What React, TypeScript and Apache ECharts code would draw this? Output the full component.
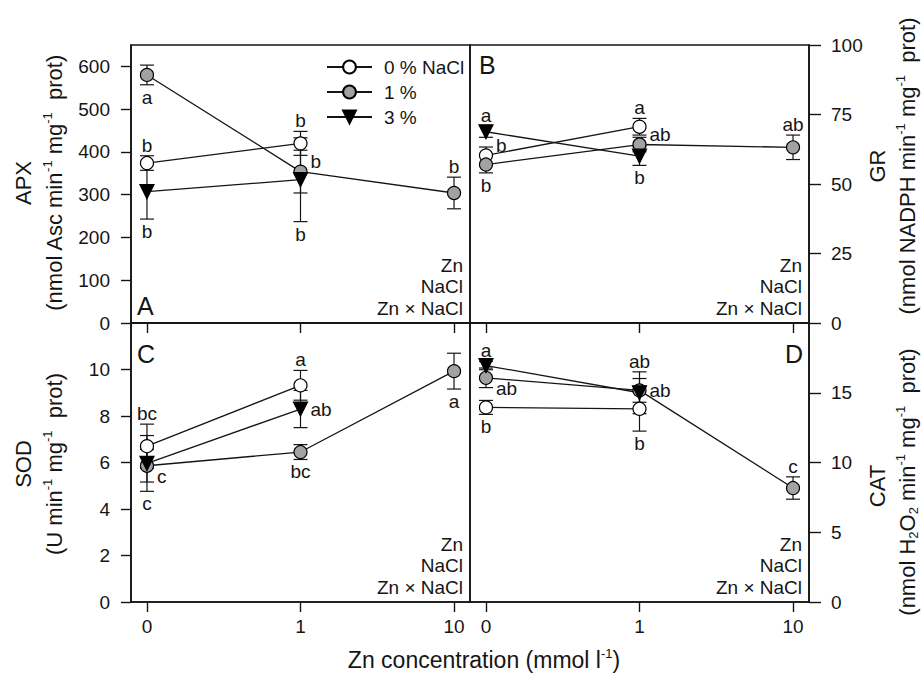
import React, { useEffect, useRef } from 'react';
import * as echarts from 'echarts';

// ---------- data ----------
const xLabels = ['0', '1', '10'];
const naclNames = ['0 % NaCl', '1 %', '3 %'];

// Panel A: APX
const apx0 = [374, 420];
const apx0Err = [17, 28];
const apx1 = [580, 354, 304];
const apx1Err = [23, 50, 37];
const apx3 = [307, 335];
const apx3Err = [64, 98];
const apx0Letters = ['b', 'b'];
const apx0Sides = ['above', 'above'];
const apx1Letters = ['a', 'b', 'b'];
const apx1Sides = ['below', 'rightUp', 'above'];
const apx3Letters = ['b', 'b'];
const apx3Sides = ['below', 'below'];
const apxTicks = [0, 100, 200, 300, 400, 500, 600];

// Panel B: GR
const gr0 = [60.3, 70.6];
const gr0Err = [3, 3];
const gr1 = [57.0, 64.2, 63.2];
const gr1Err = [3, 2.6, 4.4];
const gr3 = [68.8, 60.0];
const gr3Err = [2, 3.3];
const gr0Letters = ['b', 'a'];
const gr0Sides = ['rightUp', 'above'];
const gr1Letters = ['b', 'ab', 'ab'];
const gr1Sides = ['below', 'rightUp', 'above'];
const gr3Letters = ['a', 'b'];
const gr3Sides = ['above', 'below'];
const grTicks = [0, 25, 50, 75, 100];

// Panel C: SOD
const sod0 = [6.7, 9.32];
const sod0Err = [0.95, 0.64];
const sod1 = [5.86, 6.45, 9.93];
const sod1Err = [0.7, 0.32, 0.77];
const sod3 = [5.96, 8.3];
const sod3Err = [1.2, 0.8];
const sod0Letters = ['bc', 'a'];
const sod0Sides = ['above', 'above'];
const sod1Letters = ['c', 'bc', 'a'];
const sod1Sides = ['rightDown', 'below', 'below'];
const sod3Letters = ['c', 'ab'];
const sod3Sides = ['below', 'right'];
const sodTicks = [0, 2, 4, 6, 8, 10];

// Panel D: CAT
const cat0 = [13.95, 13.85];
const cat0Err = [0.5, 1.6];
const cat1 = [16.07, 15.17, 8.17];
const cat1Err = [0.7, 0.85, 0.8];
const cat3 = [16.95, 15.0];
const cat3Err = [0.3, 1.5];
const cat0Letters = ['b', 'b'];
const cat0Sides = ['below', 'below'];
const cat1Letters = ['ab', 'ab', 'c'];
const cat1Sides = ['rightDown', 'right', 'above'];
const cat3Letters = ['a', 'ab'];
const cat3Sides = ['above', 'above'];
const catTicks = [0, 5, 10, 15];

const statLines = ['Zn', 'NaCl', 'Zn × NaCl'];
const panelLetters = ['A', 'B', 'C', 'D'];

// ---------- styling ----------
const INK = '#151515';
const FONT = '"Liberation Sans", Arial, Helvetica, sans-serif';
const GRAY = '#a2a2a2';

const grids = [
  { left: 131, top: 45, width: 339, height: 278 },
  { left: 470, top: 45, width: 339, height: 278 },
  { left: 131, top: 323, width: 339, height: 279 },
  { left: 470, top: 323, width: 339, height: 279 },
];

const panels = [
  {
    max: 650, ticks: apxTicks, side: 'left',
    sets: [
      [apx0, apx0Err, apx0Letters, apx0Sides],
      [apx1, apx1Err, apx1Letters, apx1Sides],
      [apx3, apx3Err, apx3Letters, apx3Sides],
    ],
  },
  {
    max: 100, ticks: grTicks, side: 'right',
    sets: [
      [gr0, gr0Err, gr0Letters, gr0Sides],
      [gr1, gr1Err, gr1Letters, gr1Sides],
      [gr3, gr3Err, gr3Letters, gr3Sides],
    ],
  },
  {
    max: 12, ticks: sodTicks, side: 'left',
    sets: [
      [sod0, sod0Err, sod0Letters, sod0Sides],
      [sod1, sod1Err, sod1Letters, sod1Sides],
      [sod3, sod3Err, sod3Letters, sod3Sides],
    ],
  },
  {
    max: 20, ticks: catTicks, side: 'right',
    sets: [
      [cat0, cat0Err, cat0Letters, cat0Sides],
      [cat1, cat1Err, cat1Letters, cat1Sides],
      [cat3, cat3Err, cat3Letters, cat3Sides],
    ],
  },
];

const markerStyles = [
  { symbol: 'circle', symbolSize: 13, symbolRotate: 0, fill: '#ffffff' },
  { symbol: 'circle', symbolSize: 13, symbolRotate: 0, fill: GRAY },
  { symbol: 'triangle', symbolSize: 14, symbolRotate: 180, fill: '#000000' },
];

function errRender(params: any, api: any) {
  const x = api.value(0);
  const y = api.value(1);
  const e = api.value(2);
  const t = api.coord([x, y + e]);
  const b = api.coord([x, y - e]);
  const hw = 7;
  const st = { stroke: INK, lineWidth: 1.2 };
  return {
    type: 'group',
    children: [
      { type: 'line', shape: { x1: t[0], y1: t[1], x2: b[0], y2: b[1] }, style: st },
      { type: 'line', shape: { x1: t[0] - hw, y1: t[1], x2: t[0] + hw, y2: t[1] }, style: st },
      { type: 'line', shape: { x1: b[0] - hw, y1: b[1], x2: b[0] + hw, y2: b[1] }, style: st },
    ],
  };
}

function letterRender(letters: string[], sides: string[]) {
  return (params: any, api: any) => {
    const i = params.dataIndex;
    const x = api.value(0);
    const y = api.value(1);
    const e = api.value(2);
    const side = sides[i];
    const c = api.coord([x, y]);
    const base = { text: letters[i], fill: INK, fontSize: 19, fontFamily: FONT };
    if (side === 'above') {
      const p = api.coord([x, y + e]);
      return { type: 'text', x: p[0], y: p[1] - 1, style: { ...base, align: 'center', verticalAlign: 'bottom' } };
    }
    if (side === 'below') {
      const p = api.coord([x, y - e]);
      return { type: 'text', x: p[0], y: p[1] + 3, style: { ...base, align: 'center', verticalAlign: 'top' } };
    }
    const dy = side === 'rightUp' ? -10 : side === 'rightDown' ? 11 : 0;
    return { type: 'text', x: c[0] + 10, y: c[1] + dy, style: { ...base, align: 'left', verticalAlign: 'middle' } };
  };
}

const richN = { fontSize: 22, fontFamily: FONT, lineHeight: 26 };
const richSup = { fontSize: 13, fontFamily: FONT, lineHeight: 13, verticalAlign: 'top' };
const richSub = { fontSize: 13, fontFamily: FONT, lineHeight: 12, verticalAlign: 'bottom' };

function vText(x: number, y: number, text: string) {
  return {
    type: 'text',
    x,
    y,
    rotation: Math.PI / 2,
    style: {
      text,
      fill: INK,
      fontSize: 22,
      fontFamily: FONT,
      align: 'center',
      verticalAlign: 'middle',
      rich: { n: richN, s: richSup, b: richSub },
    },
  };
}

function plainText(x: number, y: number, text: string, size: number, align: string) {
  return {
    type: 'text',
    x,
    y,
    style: { text, fill: INK, fontSize: size, fontFamily: FONT, align, verticalAlign: 'middle' },
  };
}

function buildOption() {
  const xAxis: any[] = [];
  const yAxis: any[] = [];
  const series: any[] = [];
  const axisLineStyle = { color: INK, width: 1.6 };

  panels.forEach((p, gi) => {
    xAxis.push({
      type: 'value',
      gridIndex: gi,
      min: -0.104,
      max: 2.104,
      axisLine: { show: true, onZero: false, lineStyle: axisLineStyle },
      axisTick: { show: true, customValues: [0, 1, 2], length: 10, lineStyle: { color: INK, width: 1.4 } },
      axisLabel: {
        show: gi >= 2,
        customValues: [0, 1, 2],
        formatter: (v: number) => xLabels[Math.round(v)] ?? '',
        fontSize: 19,
        fontFamily: FONT,
        color: INK,
        margin: 15,
      },
      splitLine: { show: false },
    });
    yAxis.push({
      type: 'value',
      gridIndex: gi,
      position: p.side,
      min: 0,
      max: p.max,
      axisLine: { show: true, onZero: false, lineStyle: axisLineStyle },
      axisTick: { show: true, customValues: p.ticks, length: p.side === 'left' ? 10 : 12, lineStyle: { color: INK, width: 1.4 } },
      axisLabel: {
        customValues: p.ticks,
        fontSize: 19,
        fontFamily: FONT,
        color: INK,
        margin: p.side === 'left' ? 21 : 22,
      },
      splitLine: { show: false },
    });

    p.sets.forEach((set: any, k: number) => {
      const [vals, errs, letters, sides] = set;
      const m = markerStyles[k];
      const pts = vals.map((v: number, i: number) => [i, v]);
      const errPts = vals.map((v: number, i: number) => [i, v, errs[i]]);
      series.push({
        type: 'custom',
        xAxisIndex: gi,
        yAxisIndex: gi,
        data: errPts,
        renderItem: errRender,
        z: 2,
        silent: true,
      });
      series.push({
        type: 'line',
        name: naclNames[k],
        xAxisIndex: gi,
        yAxisIndex: gi,
        data: pts,
        symbol: m.symbol,
        symbolSize: m.symbolSize,
        symbolRotate: m.symbolRotate,
        showAllSymbol: true,
        itemStyle: { color: m.fill, borderColor: '#000', borderWidth: 1.2, opacity: 1 },
        lineStyle: { color: INK, width: 1.3 },
        emphasis: { disabled: true },
        z: 3,
        silent: true,
      });
      series.push({
        type: 'custom',
        xAxisIndex: gi,
        yAxisIndex: gi,
        data: errPts,
        renderItem: letterRender(letters, sides),
        z: 4,
        silent: true,
      });
    });
  });

  const graphic: any[] = [];
  grids.forEach((g) => {
    const right = g.left + g.width - 7;
    const bottom = g.top + g.height;
    statLines.forEach((s, j) => {
      graphic.push(plainText(right, bottom - 15 - (statLines.length - 1 - j) * 21.5, s, 19, 'right'));
    });
  });
  graphic.push(plainText(137, 306, panelLetters[0], 25, 'left'));
  graphic.push(plainText(479, 65, panelLetters[1], 25, 'left'));
  graphic.push(plainText(137, 354, panelLetters[2], 25, 'left'));
  graphic.push(plainText(803, 354, panelLetters[3], 25, 'right'));

  graphic.push(vText(23, 183, 'APX'));
  graphic.push(vText(54, 183, '{n|(nmol Asc min}{s|-1}{n| mg}{s|-1}{n|  prot)}'));
  graphic.push(vText(23, 464, 'SOD'));
  graphic.push(vText(54, 464, '{n|(U min}{s|-1}{n| mg}{s|-1}{n|  prot)}'));
  graphic.push(vText(877, 166, 'GR'));
  graphic.push(vText(907, 166, '{n|(nmol NADPH min}{s|-1}{n| mg}{s|-1}{n|  prot)}'));
  graphic.push(vText(877, 486, 'CAT'));
  graphic.push(vText(907, 482, '{n|(nmol H}{b|2}{n|O}{b|2}{n| min}{s|-1}{n| mg}{s|-1}{n|  prot)}'));

  graphic.push({
    type: 'text',
    x: 484,
    y: 660,
    style: {
      text: '{n|Zn concentration (mmol l}{s|-1}{n|)}',
      fill: INK,
      fontSize: 23,
      fontFamily: FONT,
      align: 'center',
      verticalAlign: 'middle',
      rich: { n: { ...richN, fontSize: 23 }, s: richSup },
    },
  });

  return {
    animation: false,
    backgroundColor: '#ffffff',
    textStyle: { fontFamily: FONT, color: INK },
    grid: grids.map((g) => ({
      ...g,
      show: true,
      borderColor: INK,
      borderWidth: 1.6,
      backgroundColor: 'transparent',
      containLabel: false,
    })),
    xAxis,
    yAxis,
    legend: {
      data: naclNames,
      orient: 'vertical',
      left: 326,
      top: 57,
      padding: 0,
      itemWidth: 45,
      itemHeight: 16,
      itemGap: 5,
      selectedMode: false,
      textStyle: { fontSize: 19, lineHeight: 20, color: INK, fontFamily: FONT, padding: [0, 0, 0, 7] },
    },
    series,
    graphic,
  };
}

export default function App() {
  const ref = useRef<HTMLDivElement>(null);
  useEffect(() => {
    if (!ref.current) return;
    const chart = echarts.init(ref.current, null, { renderer: 'svg' });
    chart.setOption(buildOption() as any);
    return () => chart.dispose();
  }, []);
  return (
    <div
      ref={ref}
      style={{ position: 'fixed', left: 0, top: 0, width: 921, height: 676, background: '#fff' }}
    />
  );
}
